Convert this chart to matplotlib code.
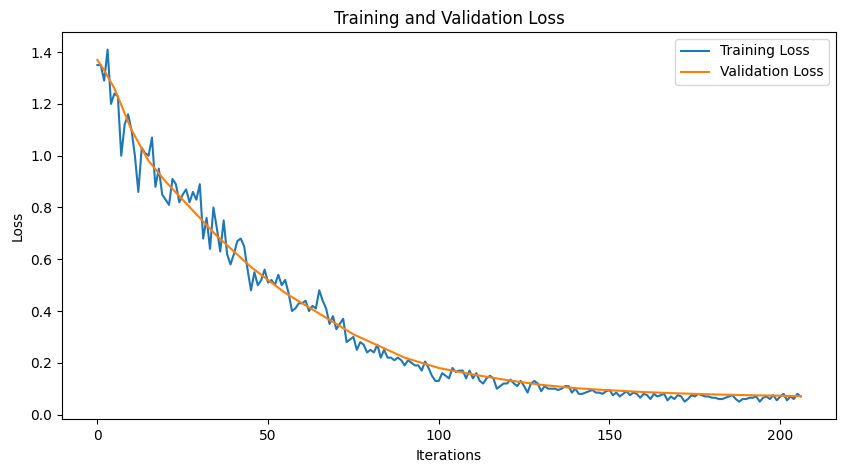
import matplotlib
matplotlib.use("Agg")
import matplotlib.pyplot as plt

train_loss = [
    1.35, 1.35, 1.29, 1.41, 1.20, 1.24, 1.23, 1.00, 1.12, 1.16,
    1.10, 1.00, 0.86, 1.03, 1.01, 1.00, 1.07, 0.88, 0.95, 0.85,
    0.83, 0.81, 0.91, 0.89, 0.82, 0.85, 0.87, 0.82, 0.86, 0.83,
    0.89, 0.68, 0.76, 0.64, 0.80, 0.72, 0.63, 0.75, 0.62, 0.58,
    0.62, 0.67, 0.68, 0.65, 0.56, 0.48, 0.55, 0.50, 0.52, 0.56,
    0.51, 0.52, 0.50, 0.54, 0.50, 0.52, 0.47, 0.40, 0.41, 0.43,
    0.43, 0.44, 0.40, 0.42, 0.41, 0.48, 0.44, 0.41, 0.35, 0.38,
    0.33, 0.35, 0.37, 0.28, 0.29, 0.30, 0.25, 0.28, 0.27, 0.24,
    0.25, 0.24, 0.27, 0.22, 0.25, 0.22, 0.22, 0.21, 0.22, 0.21,
    0.19, 0.21, 0.20, 0.19, 0.19, 0.17, 0.205, 0.18, 0.15, 0.13,
    0.13, 0.16, 0.15, 0.14, 0.18, 0.165, 0.17, 0.17, 0.14, 0.17,
    0.14, 0.16, 0.13, 0.12, 0.14, 0.15, 0.14, 0.10, 0.11, 0.12,
    0.12, 0.135, 0.12, 0.11, 0.13, 0.11, 0.085, 0.12, 0.13, 0.12,
    0.09, 0.11, 0.10, 0.10, 0.10, 0.095, 0.10, 0.11, 0.11, 0.085,
    0.10, 0.08, 0.08, 0.085, 0.09, 0.095, 0.085, 0.085, 0.08, 0.09,
    0.095, 0.075, 0.085, 0.07, 0.08, 0.09, 0.075, 0.085, 0.08, 0.065,
    0.08, 0.075, 0.06, 0.08, 0.07, 0.075, 0.08, 0.055, 0.07, 0.06,
    0.075, 0.07, 0.05, 0.06, 0.075, 0.07, 0.08, 0.075, 0.07, 0.07,
    0.065, 0.065, 0.06, 0.06, 0.065, 0.07, 0.075, 0.06, 0.05, 0.06,
    0.06, 0.065, 0.065, 0.07, 0.05, 0.065, 0.07, 0.06, 0.075, 0.055,
    0.07, 0.08, 0.055, 0.07, 0.06, 0.08, 0.07,
]
train_iters = list(range(len(train_loss)))

val_iters = [0, 2, 5, 10, 15, 20, 25, 30, 35, 40, 45, 50, 55, 60, 65, 70,
             75, 80, 85, 90, 95, 100, 110, 120, 130, 140, 150, 160, 170,
             180, 190, 200, 206]
val_loss = [1.37, 1.33, 1.26, 1.10, 0.98, 0.90, 0.83, 0.76, 0.69, 0.63,
            0.57, 0.52, 0.47, 0.43, 0.39, 0.35, 0.31, 0.28, 0.25, 0.22,
            0.20, 0.18, 0.155, 0.133, 0.115, 0.102, 0.094, 0.087, 0.082,
            0.078, 0.075, 0.073, 0.071]

fig = plt.figure(figsize=(8.46, 4.7), dpi=100)
ax = fig.add_axes([0.0735, 0.108, 0.9145, 0.824])
ax.plot(train_iters, train_loss, label="Training Loss")
ax.plot(val_iters, val_loss, label="Validation Loss")
ax.set_title("Training and Validation Loss")
ax.set_xlabel("Iterations")
ax.set_ylabel("Loss")
ax.legend()
fig.savefig("out.png", dpi=100)
